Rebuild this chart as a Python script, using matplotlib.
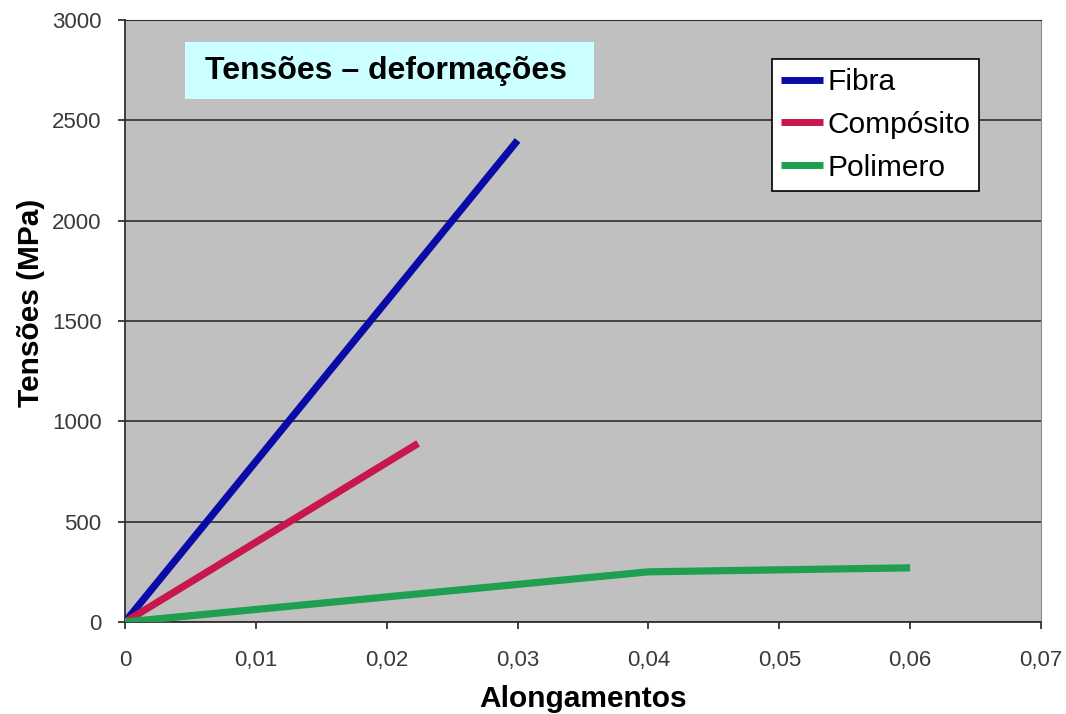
import matplotlib
matplotlib.use("Agg")
import matplotlib.pyplot as plt
from matplotlib.patches import Rectangle

plt.rcParams['font.family'] = ['Liberation Sans', 'DejaVu Sans']

# Data
fibra_x = [0.0, 0.030]
fibra_y = [0, 2400]
comp_x = [0.0, 0.0224]
comp_y = [0, 890]
poli_x = [0.0, 0.040, 0.060]
poli_y = [0, 250, 270]

series_labels = ['Fibra', 'Compósito', 'Polimero']
series_colors = ['#0a0aa8', '#c8174c', '#1ea050']

x_ticks = [0, 0.01, 0.02, 0.03, 0.04, 0.05, 0.06, 0.07]
x_tick_labels = ['0', '0,01', '0,02', '0,03', '0,04', '0,05', '0,06', '0,07']
y_ticks = [0, 500, 1000, 1500, 2000, 2500, 3000]
y_tick_labels = ['0', '500', '1000', '1500', '2000', '2500', '3000']

W, H = 1066, 714
fig = plt.figure(figsize=(W / 100, H / 100), dpi=100)
fig.patch.set_facecolor('white')

L, R, T, B = 125, 1041, 20, 622
ax = fig.add_axes([L / W, 1 - B / H, (R - L) / W, (B - T) / H])
ax.set_facecolor('#c0c0c0')

for xs, ys, lab, col in zip([fibra_x, comp_x, poli_x], [fibra_y, comp_y, poli_y],
                            series_labels, series_colors):
    ax.plot(xs, ys, color=col, lw=5.2, label=lab, solid_capstyle='butt', zorder=3)

ax.set_xlim(0, 0.07)
ax.set_ylim(0, 3000)
ax.set_xticks(x_ticks)
ax.set_xticklabels(x_tick_labels)
ax.set_yticks(y_ticks)
ax.set_yticklabels(y_tick_labels)
ax.tick_params(axis='both', labelsize=16, labelcolor='#3a3a3a', color='#222222',
               length=5, width=1.2, direction='out')
ax.tick_params(axis='x', pad=15)
ax.tick_params(axis='y', pad=12)

ax.yaxis.grid(True, color='#202020', lw=1.1)
ax.set_axisbelow(True)
ax.spines['left'].set_color('#303030')
ax.spines['bottom'].set_color('#303030')
ax.spines['left'].set_linewidth(1.3)
ax.spines['bottom'].set_linewidth(1.3)
ax.spines['right'].set_color('#8a8a8a')
ax.spines['top'].set_color('#303030')

ax.set_xlabel('Alongamentos', fontsize=21.5, fontweight='bold', labelpad=10)
ax.set_ylabel('Tensões (MPa)', fontsize=21.5, fontweight='bold')
ax.yaxis.set_label_coords(-0.087, 0.53)

leg = ax.legend(loc='upper left', bbox_to_anchor=(772 / W, 1 - 59 / H),
                bbox_transform=fig.transFigure, fontsize=21.5, frameon=True,
                fancybox=False, edgecolor='black', framealpha=1, borderaxespad=0,
                borderpad=0.3, handlelength=1.4, handletextpad=0.15,
                labelspacing=0.5)
leg.get_frame().set_linewidth(1.2)
for line in leg.get_lines():
    line.set_linewidth(5)

# Title box
fig.patches.append(Rectangle((185 / W, 1 - 99 / H), (594 - 185) / W, (99 - 42) / H,
                             transform=fig.transFigure, facecolor='#ccffff',
                             edgecolor='none', zorder=5))
fig.text(386 / W, 1 - 71 / H, 'Tensões – deformações', fontsize=23,
         fontweight='bold', ha='center', va='center', zorder=6)

fig.savefig('out.png', dpi=100)
